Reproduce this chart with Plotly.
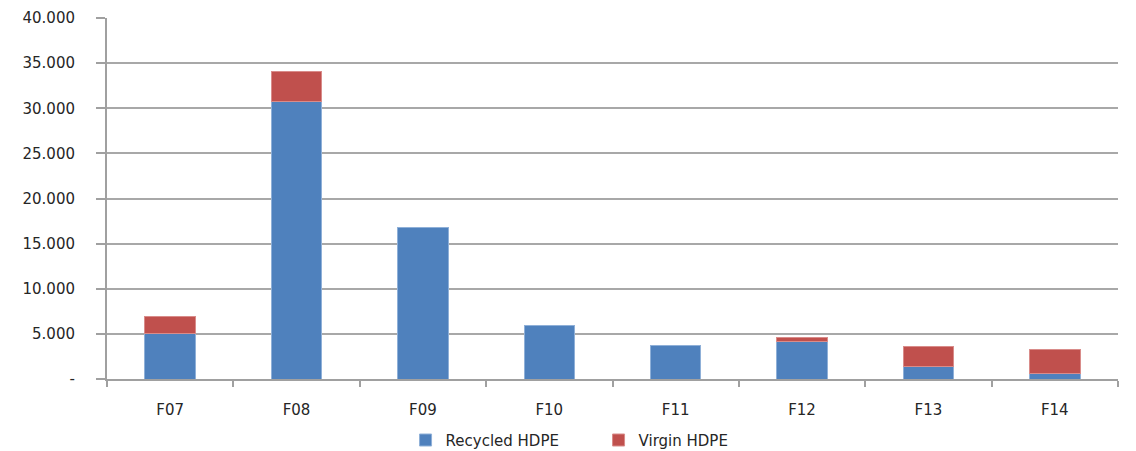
import plotly.graph_objects as go

categories = ["F07", "F08", "F09", "F10", "F11", "F12", "F13", "F14"]
recycled = [5050, 30700, 16750, 5900, 3730, 4200, 1440, 660]
virgin = [1850, 3400, None, None, None, 450, 2140, 2630]
tick_vals = [0, 5000, 10000, 15000, 20000, 25000, 30000, 35000, 40000]
tick_text = ["-", "5.000", "10.000", "15.000", "20.000", "25.000", "30.000", "35.000", "40.000"]

fig = go.Figure()
fig.add_trace(go.Bar(x=categories, y=recycled, name="Recycled HDPE",
                     marker=dict(color="#4f81bd", line=dict(color="#8fb0d8", width=1))))
fig.add_trace(go.Bar(x=categories, y=virgin, name="Virgin HDPE",
                     marker=dict(color="#c0504d", line=dict(color="#d98c8a", width=1))))

fnt = dict(family="DejaVu Sans, Verdana, sans-serif", size=15, color="#262626")
fig.update_layout(
    barmode="stack",
    bargap=0.6,
    width=1136, height=451,
    margin=dict(l=107, r=18, t=18, b=72, autoexpand=False),
    paper_bgcolor="white", plot_bgcolor="white",
    font=fnt,
    showlegend=True,
    legend=dict(orientation="h", x=0.357, xanchor="left", xref="container",
                y=-0.124, yanchor="top", yref="paper",
                font=fnt, traceorder="normal", itemwidth=30,
                tracegroupgap=0, entrywidth=148),
    xaxis=dict(showline=True, linecolor="#a0a0a0", linewidth=2, ticks="outside",
               tickson="boundaries", ticklen=6, tickcolor="#a0a0a0", tickwidth=2,
               showgrid=False, ticklabelstandoff=16),
    yaxis=dict(range=[0, 40000], tickvals=tick_vals, ticktext=tick_text,
               showline=True, linecolor="#a0a0a0", linewidth=2,
               ticks="outside", ticklen=9, tickcolor="#a0a0a0", tickwidth=2,
               showgrid=True, gridcolor="#a8a8a8", gridwidth=2, zeroline=False,
               ticklabelstandoff=18),
)
fig.write_html("out.html")
